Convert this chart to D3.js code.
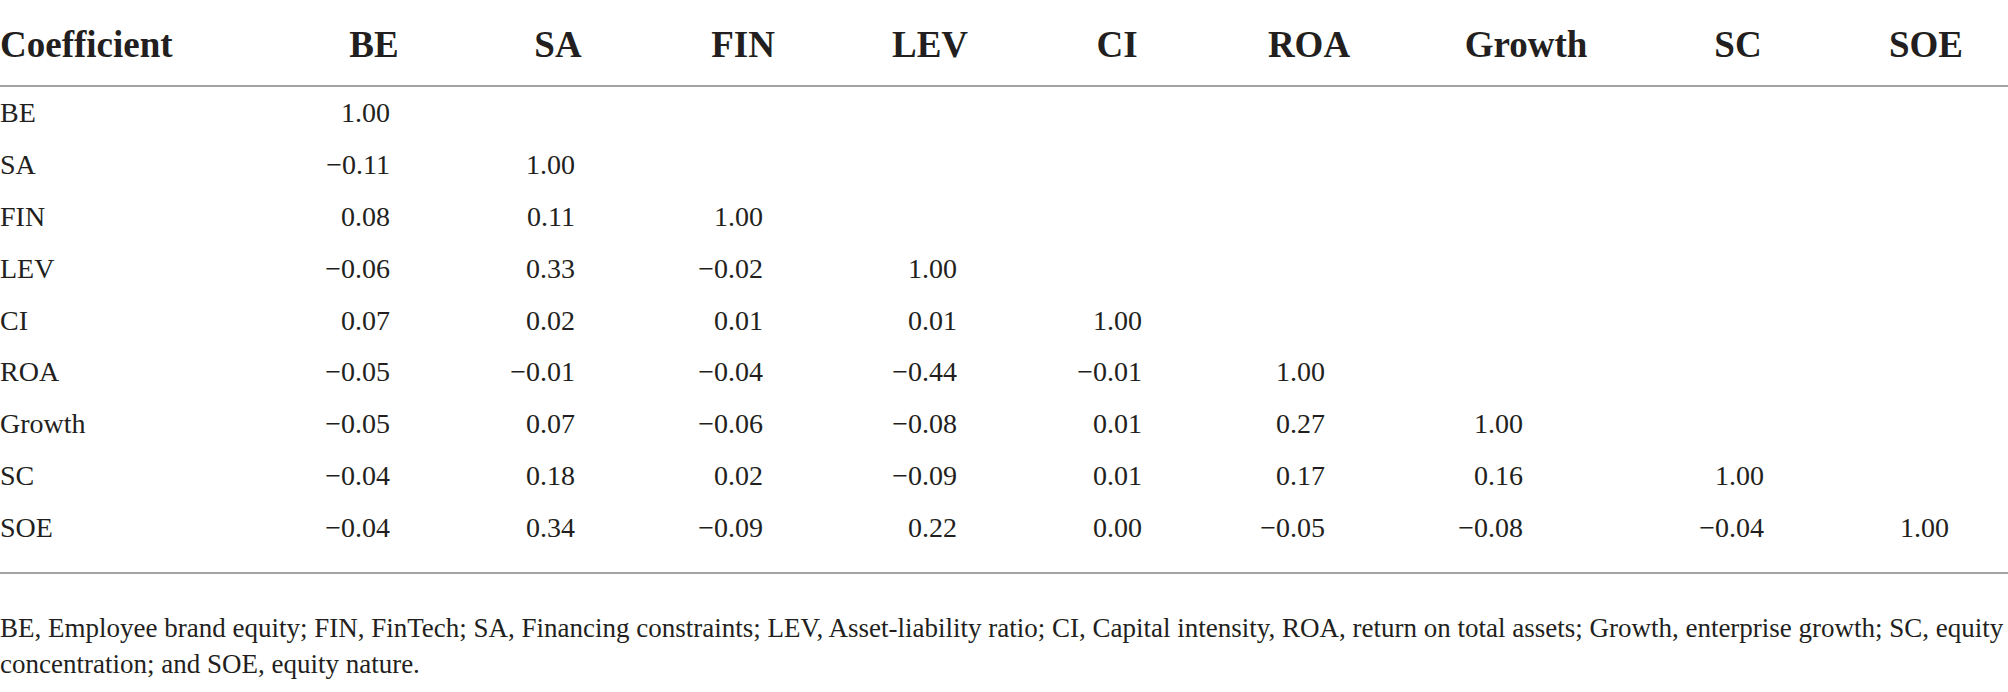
<!DOCTYPE html>
<html>
<head>
<meta charset="utf-8">
<script src="https://cdn.jsdelivr.net/npm/d3@7"></script>
<style>
  html, body { margin: 0; padding: 0; background: #fff; }
  svg { display: block; }
  text { fill: #231f20; font-family: "Liberation Serif", "Times New Roman", serif; }
</style>
</head>
<body>
<svg id="chart" width="2008" height="692"></svg>
<script>
// ---- data ----
const headerTitle = "Coefficient";
const categories = ["BE", "SA", "FIN", "LEV", "CI", "ROA", "Growth", "SC", "SOE"];
const rowBE     = [1.00];
const rowSA     = [-0.11, 1.00];
const rowFIN    = [0.08, 0.11, 1.00];
const rowLEV    = [-0.06, 0.33, -0.02, 1.00];
const rowCI     = [0.07, 0.02, 0.01, 0.01, 1.00];
const rowROA    = [-0.05, -0.01, -0.04, -0.44, -0.01, 1.00];
const rowGrowth = [-0.05, 0.07, -0.06, -0.08, 0.01, 0.27, 1.00];
const rowSC     = [-0.04, 0.18, 0.02, -0.09, 0.01, 0.17, 0.16, 1.00];
const rowSOE    = [-0.04, 0.34, -0.09, 0.22, 0.00, -0.05, -0.08, -0.04, 1.00];
const footnoteLines = [
  "BE, Employee brand equity; FIN, FinTech; SA, Financing constraints; LEV, Asset-liability ratio; CI, Capital intensity, ROA, return on total assets; Growth, enterprise growth; SC, equity",
  "concentration; and SOE, equity nature."
];

// ---- build table ----
const rows = [rowBE, rowSA, rowFIN, rowLEV, rowCI, rowROA, rowGrowth, rowSC, rowSOE];
const cells = [];
rows.forEach((vals, ri) => vals.forEach((v, ci) => cells.push({row: categories[ri], col: categories[ci], value: v})));

const svg = d3.select("#chart");
const W = 2008;

// scales
const xHead = d3.scaleOrdinal().domain(categories)
  .range([374, 558, 743, 930, 1117, 1309, 1526, 1738, 1926]);
const xVal = d3.scaleOrdinal().domain(categories)
  .range([390, 575, 763, 957, 1142, 1325, 1523, 1764, 1949]);
const yRow = d3.scalePoint().domain(categories).range([122, 537]);
const fmt = d3.format(".2f");

// header
svg.append("text").attr("x", 0).attr("y", 57)
  .attr("font-size", 37).attr("font-weight", "bold").text(headerTitle);
svg.append("g").selectAll("text").data(categories).join("text")
  .attr("x", d => xHead(d)).attr("y", 57)
  .attr("text-anchor", "middle")
  .attr("font-size", 37).attr("font-weight", "bold")
  .text(d => d);

// rules
svg.append("line").attr("x1", 0).attr("x2", W).attr("y1", 86).attr("y2", 86)
  .attr("stroke", "#a3a3a3").attr("stroke-width", 2);
svg.append("line").attr("x1", 0).attr("x2", W).attr("y1", 573).attr("y2", 573)
  .attr("stroke", "#a3a3a3").attr("stroke-width", 2);

// row labels
svg.append("g").selectAll("text").data(categories).join("text")
  .attr("x", 0).attr("y", d => yRow(d))
  .attr("font-size", 28)
  .text(d => d);

// values
svg.append("g").selectAll("text").data(cells).join("text")
  .attr("x", d => xVal(d.col)).attr("y", d => yRow(d.row))
  .attr("text-anchor", "end")
  .attr("font-size", 28)
  .text(d => fmt(d.value));

// footnote
svg.append("g").selectAll("text").data(footnoteLines).join("text")
  .attr("x", 0).attr("y", (d, i) => 637 + i * 36)
  .attr("font-size", 27)
  .text(d => d);
</script>
</body>
</html>
